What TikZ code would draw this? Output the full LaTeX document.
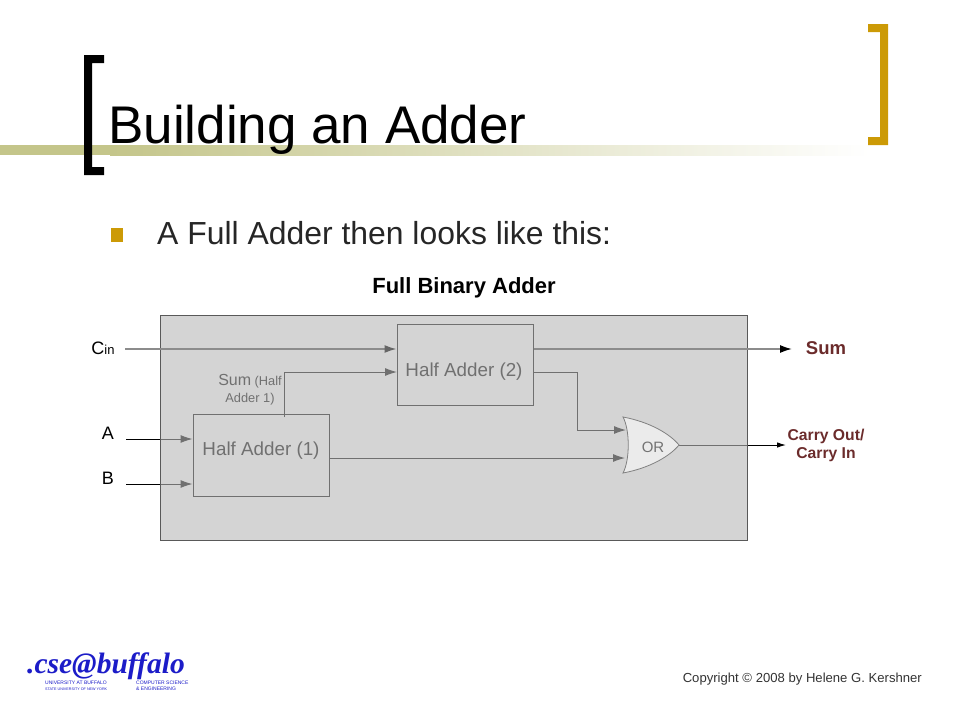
\documentclass[tikz,border=0pt]{standalone}
\usepackage{fontspec}
\usetikzlibrary{arrows.meta}
\setmainfont{Liberation Sans}
\newfontfamily\logofont{Liberation Serif}
\definecolor{slidegold}{HTML}{CC9A06}
\definecolor{bandolive}{HTML}{C4C58A}
\definecolor{carryred}{HTML}{6B2B2B}
\definecolor{logoblue}{HTML}{1C1CC8}
\tikzset{
  addbox/.style={draw=black,line width=1pt,inner sep=0pt,minimum width=136pt},
  addtext/.style={font=\fontsize{18.8}{20}\selectfont,text=black},
  wire/.style={black,line width=1pt,-{Latex[length=12pt,width=8pt]}},
  wirefat/.style={gray!90!white,line width=1.6pt},
  pinlabel/.style={font=\fontsize{18}{20}\selectfont,inner sep=0pt},
  resultlabel/.style={font=\bfseries\fontsize{15.7}{18}\selectfont,text=carryred,align=center,inner sep=0pt},
  logosmall/.style={font=\fontsize{5}{6}\selectfont,text=logoblue,align=left,inner sep=0pt}
}
\begin{document}
\begin{tikzpicture}[x=1pt,y=-1pt]
    \useasboundingbox (0,0) rectangle (960,720);

    % slide frame
    \fill[bandolive] (0,145) rectangle (110,155);
    \shade[left color=bandolive,right color=white] (110,145) rectangle (870,155);
    \fill[black] (84,55) -- (104,55) -- (104,63) -- (92,63) -- (92,167) -- (104,167) -- (104,175) -- (84,175) -- cycle;
    \fill[slidegold] (868,24) -- (888,24) -- (888,145) -- (868,145) -- (868,137) -- (880,137) -- (880,32) -- (868,32) -- cycle;
    \node[anchor=base west,inner sep=0pt,font=\fontsize{53}{56}\selectfont] (title) at (108,143) {Building an Adder};
    \fill[slidegold] (111,228) rectangle (123,242);
    \node[anchor=base west,inner sep=0pt,font=\fontsize{31.9}{34}\selectfont,text=black!85] (bullet) at (157,244) {A Full Adder then looks like this:};
    \node[inner sep=0pt,font=\bfseries\fontsize{22}{24}\selectfont] (heading) at (464,288) {Full Binary Adder};

    % adder blocks, the grey panel goes over them
    \node[addbox,minimum height=82pt] (ha1) at (261,455) {};
    \node[addbox,minimum height=81pt] (ha2) at (465,364.5) {};
    \node[addtext] (ha1text) at (261,451) {Half Adder (1)};
    \node[addtext] (ha2text) at (464,372) {Half Adder (2)};
    \node[align=center,inner sep=0pt,font=\fontsize{12.8}{17}\selectfont] (sumlabel) at (250,390) {{\fontsize{16}{17}\selectfont Sum} (Half\\Adder 1)};

    \coordinate (a) at (126,439);
    \coordinate (b) at (126,484);
    \coordinate (cin) at (125,349);
    \coordinate (sumtap) at (284,417);
    \coordinate (ha2in) at (397,372);
    \coordinate (orbend) at (577,430);
    \coordinate (orin1) at (626,430);
    \coordinate (orin2) at (625,458);
    \coordinate (ortip) at (679,445);
    \coordinate (carryout) at (786,445);
    \coordinate (sumout) at (792,349);

    \draw[wire] (a) -- (ha1.west |- a);
    \draw[wire] (b) -- (ha1.west |- b);
    \draw[wire] (sumtap) |- (ha2in);
    \draw[wire] (ha1.east |- orin2) -- (orin2);
    \draw[wire] (ha2.east |- ha2in) -| (orbend) -- (orin1);
    \draw[black,line width=1pt,-{Latex[length=9pt,width=5.5pt]}] (ortip) -- (carryout);

    \draw[fill=black!28,fill opacity=.61,draw opacity=0] (160,315) rectangle (747,540);
    \draw[black!65,line width=1pt] (160,315) rectangle (747,540);

    % OR gate sits on top
    \draw[fill=black!8,draw=black!50,line width=.8pt] (623,417) .. controls (650,422) and (670,434) .. (ortip)
        .. controls (670,456) and (650,468) .. (623,473) .. controls (630,460) and (630,430) .. cycle;
    \node[inner sep=0pt,text=black!55,font=\fontsize{15}{16}\selectfont] (orgate) at (653,447) {OR};

    \draw[wirefat,-{Latex[length=12pt,width=8pt,color=black!60]}] (cin) -- (ha2.west |- cin);
    \draw[wirefat,-{Latex[length=12pt,width=8pt,color=black]}] (ha2.east |- cin) -- (sumout);

    \node[pinlabel] (cinlabel) at (103,348) {C{\fontsize{13}{14}\selectfont in}};
    \node[pinlabel] (alabel) at (108,433) {A};
    \node[pinlabel] (blabel) at (108,478) {B};
    \node[resultlabel,font=\bfseries\fontsize{18.5}{20}\selectfont] (sumresult) at (826,348) {Sum};
    \node[resultlabel] (carryresult) at (826,445) {Carry Out/\\Carry In};

    % logo and footer
    \node[anchor=base west,inner sep=0pt,text=logoblue,font=\logofont\itshape\bfseries\fontsize{29.5}{36}\selectfont] (logo) at (27,673) {.cse@buffalo};
    \node[logosmall,anchor=north west] (logouni) at (45,681) {UNIVERSITY AT BUFFALO\\{\fontsize{3.7}{6}\selectfont STATE UNIVERSITY OF NEW YORK}};
    \node[logosmall,anchor=north west] (logodept) at (136,681) {COMPUTER SCIENCE\\\& ENGINEERING};
    \node[anchor=east,inner sep=0pt,text=black!80,font=\fontsize{13.1}{15}\selectfont] (copyright) at (922,679) {Copyright © 2008 by Helene G. Kershner};
\end{tikzpicture}
\end{document}
